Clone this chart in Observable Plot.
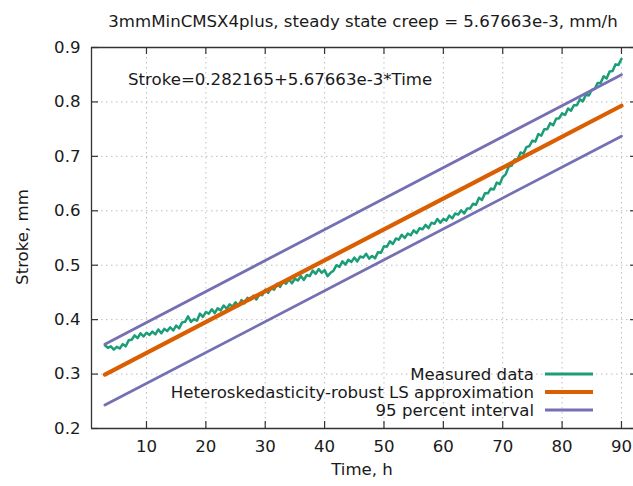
<!DOCTYPE html>
<html>
<head>
<meta charset="utf-8">
<script src="https://cdn.jsdelivr.net/npm/d3@7"></script>
<script src="https://cdn.jsdelivr.net/npm/@observablehq/plot@0.6"></script>
<style>
  html, body { margin: 0; padding: 0; background: #fff; overflow: hidden; }
  #chart svg { display: block; }
</style>
</head>
<body>
<div id="chart"></div>
<script>
// ---- data ----
const titleText = "3mmMinCMSX4plus, steady state creep = 5.67663e-3, mm/h";
const equationText = "Stroke=0.282165+5.67663e-3*Time";
const xLabel = "Time, h";
const yLabel = "Stroke, mm";
const xTicks = [10, 20, 30, 40, 50, 60, 70, 80, 90];
const yTicks = [0.2, 0.3, 0.4, 0.5, 0.6, 0.7, 0.8, 0.9];
const yGrid = [0.3, 0.4, 0.5, 0.6, 0.7, 0.8];
const xDomain = [0.74, 92.7];
const yDomain = [0.2, 0.9];

const legendLabels = ["Measured data", "Heteroskedasticity-robust LS approximation", "95 percent interval"];
const seriesColors = ["#1b9e77", "#d95f02", "#7570b3"];

// measured stroke (mm) vs time (h)
const time = [
  3,3.5,4,4.5,5,5.5,6,6.5,7,7.5,8,8.5,9,9.5,10,10.5,11,11.5,12,12.5,
  13,13.5,14,14.5,15,15.5,16,16.5,17,17.5,18,18.5,19,19.5,20,20.5,21,21.5,22,22.5,
  23,23.5,24,24.5,25,25.5,26,26.5,27,27.5,28,28.5,29,29.5,30,30.5,31,31.5,32,32.5,
  33,33.5,34,34.5,35,35.5,36,36.5,37,37.5,38,38.5,39,39.5,40,40.5,41,41.5,42,42.5,
  43,43.5,44,44.5,45,45.5,46,46.5,47,47.5,48,48.5,49,49.5,50,50.5,51,51.5,52,52.5,
  53,53.5,54,54.5,55,55.5,56,56.5,57,57.5,58,58.5,59,59.5,60,60.5,61,61.5,62,62.5,
  63,63.5,64,64.5,65,65.5,66,66.5,67,67.5,68,68.5,69,69.5,70,70.5,71,71.5,72,72.5,
  73,73.5,74,74.5,75,75.5,76,76.5,77,77.5,78,78.5,79,79.5,80,80.5,81,81.5,82,82.5,
  83,83.5,84,84.5,85,85.5,86,86.5,87,87.5,88,88.5,89,89.5,90
];
const stroke = [
  0.353,0.348,0.351,0.345,0.350,0.347,0.355,0.351,0.362,0.363,0.371,0.366,0.375,0.369,0.376,0.372,0.378,0.373,0.382,0.375,
  0.383,0.379,0.386,0.380,0.389,0.384,0.395,0.396,0.406,0.396,0.401,0.398,0.411,0.405,0.414,0.411,0.419,0.412,0.421,0.417,
  0.426,0.420,0.428,0.424,0.432,0.425,0.436,0.430,0.440,0.436,0.444,0.437,0.446,0.445,0.455,0.449,0.458,0.455,0.466,0.460,
  0.470,0.466,0.474,0.467,0.475,0.472,0.480,0.473,0.482,0.480,0.490,0.484,0.493,0.486,0.491,0.480,0.486,0.490,0.500,0.497,
  0.507,0.501,0.510,0.506,0.514,0.507,0.516,0.514,0.521,0.512,0.517,0.513,0.524,0.523,0.535,0.534,0.544,0.539,0.549,0.547,
  0.556,0.550,0.558,0.555,0.564,0.559,0.568,0.566,0.574,0.568,0.578,0.576,0.585,0.578,0.585,0.582,0.591,0.586,0.595,0.593,
  0.601,0.595,0.604,0.604,0.613,0.611,0.624,0.620,0.632,0.632,0.641,0.639,0.652,0.649,0.662,0.667,0.681,0.683,0.694,0.694,
  0.707,0.705,0.717,0.719,0.729,0.727,0.741,0.738,0.750,0.750,0.761,0.757,0.769,0.770,0.779,0.776,0.788,0.784,0.794,0.794,
  0.805,0.801,0.813,0.812,0.822,0.824,0.835,0.835,0.847,0.843,0.856,0.857,0.869,0.868,0.879
];

// fitted line and 95 percent interval (end points)
const fitTime = [3, 90];
const fitStroke = [0.299, 0.793];
const upperStroke = [0.355, 0.850];
const lowerStroke = [0.243, 0.737];

// ---- tables built from the arrays ----
const measured = time.map((t, i) => ({t, v: stroke[i]}));
const fit = fitTime.map((t, i) => ({t, v: fitStroke[i]}));
const upper = fitTime.map((t, i) => ({t, v: upperStroke[i]}));
const lower = fitTime.map((t, i) => ({t, v: lowerStroke[i]}));

const FONT = "DejaVu Sans";
const FS = 16.6;
const axisColor = "#333";
const gridColor = "#bdbdbd";

const chart = Plot.plot({
  width: 633,
  height: 486,
  marginLeft: 91,
  marginRight: 0,
  marginTop: 47,
  marginBottom: 58,
  style: {fontFamily: FONT, fontSize: FS + "px", color: "#1a1a1a", background: "#fff"},
  x: {domain: xDomain, range: [91, 637]},
  y: {domain: yDomain},
  marks: [
    Plot.ruleX(xTicks, {stroke: gridColor, strokeDasharray: "1.5,3.5", strokeWidth: 1}),
    Plot.ruleY(yGrid, {stroke: gridColor, strokeDasharray: "1.5,3.5", strokeWidth: 1}),
    Plot.line(measured, {x: "t", y: "v", stroke: seriesColors[0], strokeWidth: 2.5, strokeLinejoin: "round"}),
    Plot.line(fit, {x: "t", y: "v", stroke: seriesColors[1], strokeWidth: 4.2}),
    Plot.line(upper, {x: "t", y: "v", stroke: seriesColors[2], strokeWidth: 2.8}),
    Plot.line(lower, {x: "t", y: "v", stroke: seriesColors[2], strokeWidth: 2.8}),
    Plot.ruleY([yDomain[0], yDomain[1]], {stroke: axisColor, strokeWidth: 1.3}),
    Plot.ruleX([xDomain[0]], {stroke: axisColor, strokeWidth: 1.3}),
    Plot.tickX(xTicks, {x: d => d, insetTop: 374, stroke: axisColor, strokeWidth: 1.2}),
    Plot.tickX(xTicks, {x: d => d, insetBottom: 374, stroke: axisColor, strokeWidth: 1.2}),
    Plot.tickY(yTicks, {y: d => d, insetRight: 535, stroke: axisColor, strokeWidth: 1.2}),
    Plot.tickY(yTicks, {y: d => d, insetLeft: 539, stroke: axisColor, strokeWidth: 1.2}),
    Plot.axisX(xTicks, {tickSize: 0, tickPadding: 12, label: null, fontSize: FS, fill: "#1a1a1a"}),
    Plot.axisY(yTicks, {tickSize: 0, tickPadding: 11, label: null, tickFormat: d3.format(".1f"), fontSize: FS, fill: "#1a1a1a"})
  ]
});

const svg = d3.select(chart);
const txt = (x, y, s, anchor) => svg.append("text")
  .attr("x", x).attr("y", y)
  .attr("text-anchor", anchor)
  .attr("font-family", FONT)
  .attr("font-size", FS)
  .attr("fill", "#1a1a1a")
  .text(s);

txt(363, 27, titleText, "middle");
txt(128, 85, equationText, "start");
txt(362, 475, xLabel, "middle");
txt(0, 0, yLabel, "middle").attr("transform", "translate(28,237) rotate(-90)");

const rowY = [374, 392, 410];
const widths = [3, 4.2, 2.8];
legendLabels.forEach((lab, i) => {
  txt(534, rowY[i], lab, "end").attr("dy", "0.36em");
  svg.append("line")
    .attr("x1", 545).attr("x2", 593)
    .attr("y1", rowY[i]).attr("y2", rowY[i])
    .attr("stroke", seriesColors[i])
    .attr("stroke-width", widths[i]);
});

document.getElementById("chart").appendChild(chart);
</script>
</body>
</html>
